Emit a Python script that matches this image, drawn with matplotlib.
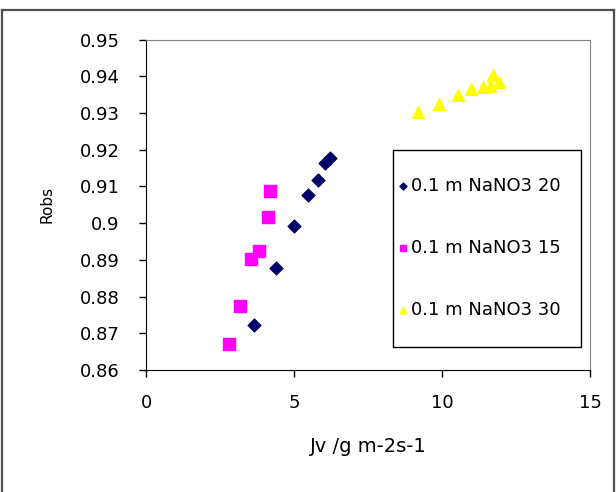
import matplotlib
matplotlib.use("Agg")
import matplotlib.pyplot as plt
from matplotlib.lines import Line2D
from matplotlib.patches import Rectangle

# Series (Jv in g m-2 s-1, Robs)
jv_20 = [3.64, 4.40, 4.99, 5.48, 5.81, 6.04, 6.20]
robs_20 = [0.8723, 0.8878, 0.8991, 0.9076, 0.9118, 0.9165, 0.9178]

jv_15 = [2.82, 3.16, 3.55, 3.83, 4.11, 4.20]
robs_15 = [0.8671, 0.8773, 0.8901, 0.8924, 0.9018, 0.9088]

jv_30 = [9.20, 9.90, 10.55, 10.98, 11.40, 11.63, 11.72, 11.94]
robs_30 = [0.9302, 0.9325, 0.9348, 0.9366, 0.9371, 0.9373, 0.9402, 0.9384]

labels = ["0.1 m NaNO3 20", "0.1 m NaNO3 15", "0.1 m NaNO3 30"]
x_ticks = [0, 5, 10, 15]
y_ticks = [0.86, 0.87, 0.88, 0.89, 0.90, 0.91, 0.92, 0.93, 0.94, 0.95]
y_tick_labels = ["0.86", "0.87", "0.88", "0.89", "0.9", "0.91", "0.92", "0.93", "0.94", "0.95"]

plt.rcParams["font.family"] = "DejaVu Sans"

fig = plt.figure(figsize=(6.16, 4.92), dpi=100)
W, H = 616, 492

# outer chart frame (Excel-style), bottom edge cut off in the picture
fig.add_artist(Line2D([2 / W, 2 / W], [0, 1 - 10 / H], transform=fig.transFigure, color="#505050", lw=1.6))
fig.add_artist(Line2D([2 / W, 614 / W], [1 - 10 / H, 1 - 10 / H], transform=fig.transFigure, color="#505050", lw=1.6))
fig.add_artist(Line2D([614 / W, 614 / W], [0, 1 - 10 / H], transform=fig.transFigure, color="#505050", lw=1.6))

ax_l, ax_b, ax_w, ax_h = 146, 370, 444, 330.5
ax = fig.add_axes([ax_l / W, 1 - ax_b / H, ax_w / W, ax_h / H])

ax.scatter(jv_20, robs_20, marker="D", s=42, color="#000066", label=labels[0], zorder=3)
ax.scatter(jv_15, robs_15, marker="s", s=78, color="#FF00FF", label=labels[1], zorder=3)
ax.scatter(jv_30, robs_30, marker="^", s=72, color="#FFFF00", label=labels[2], zorder=3)

ax.set_xlim(0, 15)
ax.set_ylim(0.86, 0.95)
ax.set_xticks(x_ticks)
ax.set_yticks(y_ticks)
ax.set_yticklabels(y_tick_labels)
ax.tick_params(axis="both", direction="out", length=5, width=1, labelsize=13, color="black")
ax.tick_params(axis="x", pad=12)
ax.tick_params(axis="y", pad=14)

ax.spines["left"].set_color("black")
ax.spines["bottom"].set_color("black")
ax.spines["top"].set_color("#808080")
ax.spines["right"].set_color("#808080")

ax.set_xlabel("Jv /g m-2s-1", fontsize=14, labelpad=18)
ax.set_ylabel("Robs", fontsize=11, labelpad=18)

# legend box (pixel bounds 393..581 x 150..347)
box = Rectangle(((393 - ax_l) / ax_w, (ax_b - 347) / ax_h), (581 - 393) / ax_w, (347 - 150) / ax_h,
                transform=ax.transAxes, fill=True, facecolor="white", edgecolor="black", lw=1.0, zorder=4)
ax.add_patch(box)
leg = ax.legend(loc="center left", bbox_to_anchor=((396 - ax_l) / ax_w, (ax_b - 248) / ax_h),
                fontsize=13, frameon=False, handletextpad=0.05, handlelength=0.8,
                labelspacing=2.45, borderpad=0, borderaxespad=0, markerscale=0.55)
leg.set_zorder(5)

fig.savefig("out.png", dpi=100)
